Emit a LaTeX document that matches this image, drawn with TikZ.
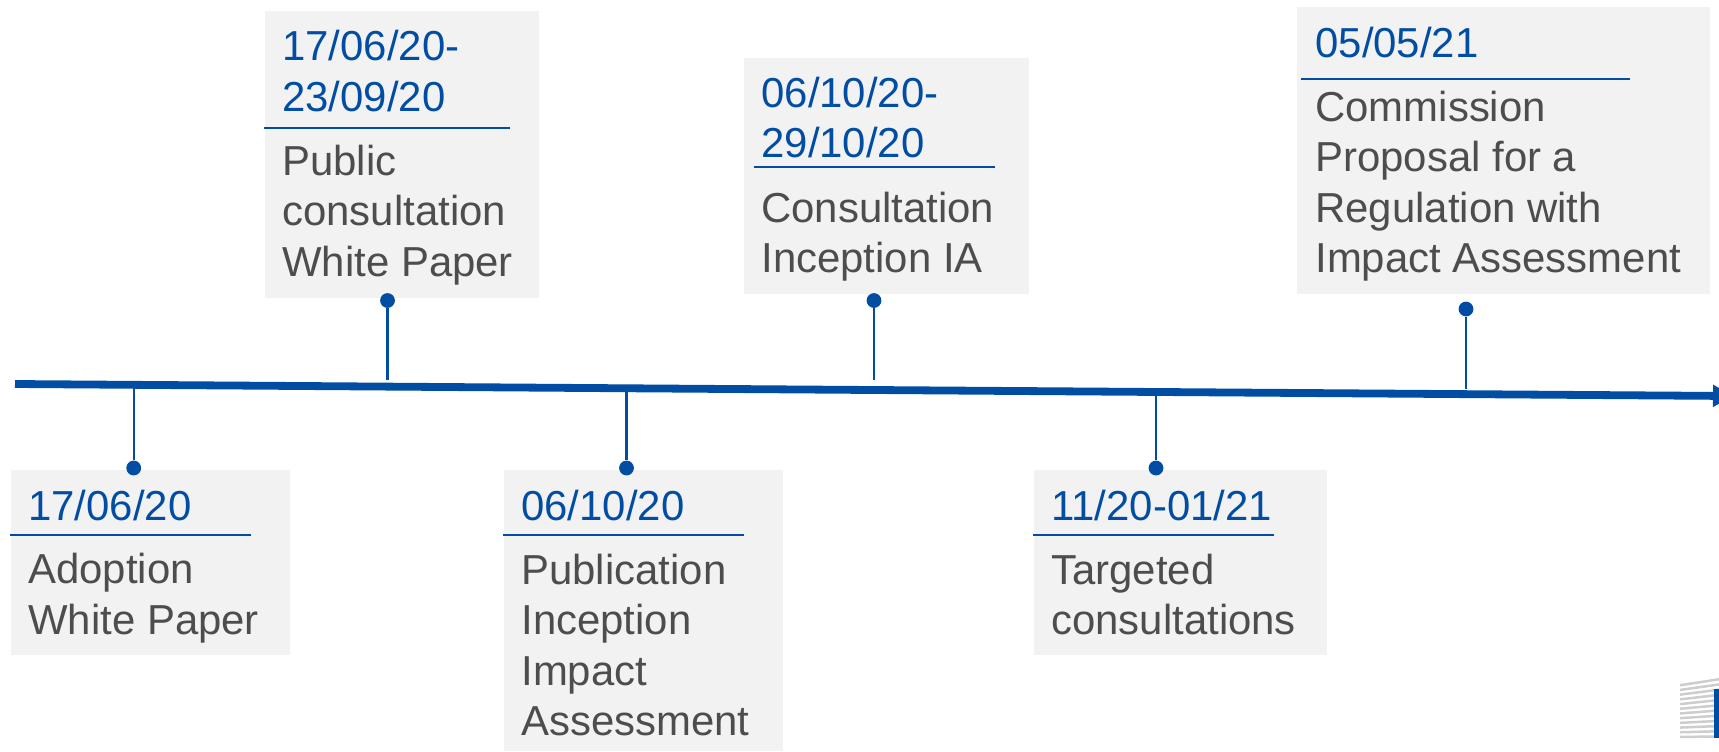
\documentclass[tikz,border=0pt]{standalone}
\usepackage{fontspec}
\setmainfont{Liberation Sans}
\usetikzlibrary{arrows.meta,fit}
\definecolor{ecblue}{HTML}{014DA3}
\definecolor{cardgrey}{HTML}{F2F2F2}
\definecolor{bodygrey}{HTML}{4D4D4D}
\definecolor{logogrey}{HTML}{CDCDCD}
\tikzset{
  card/.style={fill=cardgrey,draw=none,inner sep=0pt,outer sep=0pt},
  datetext/.style={anchor=base west,inner sep=0pt,align=left,text=ecblue,font=\fontsize{20.95}{25.2}\selectfont},
  bodytext/.style={anchor=base west,inner sep=0pt,align=left,text=bodygrey,font=\fontsize{20.95}{25.2}\selectfont},
  daterule/.style={draw=ecblue,line width=0.95pt},
  stem/.style={draw=ecblue,line width=1.15pt},
  pin/.style={circle,fill=ecblue,draw=none,minimum size=7.4pt,inner sep=0pt},
  axisline/.style={draw=ecblue,line width=3.9pt,-{Triangle[length=10pt,width=10.5pt,fill=ecblue]}}
}
\begin{document}
\begin{tikzpicture}[x=0.5pt,y=-0.5pt]
\clip (0,0) rectangle (1719,751);
% cards
\node[card,fit={(11,470)(290,655)}] (cardA) {};
\node[card,fit={(265,11)(539,298)}] (cardB) {};
\node[card,fit={(504,470)(783,751)}] (cardC) {};
\node[card,fit={(744,58)(1029,294)}] (cardD) {};
\node[card,fit={(1034,470)(1327,655)}] (cardE) {};
\node[card,fit={(1297,7)(1710,294)}] (cardF) {};
% axis
\coordinate (axisL) at (15,384);
\coordinate (axisR) at (1733,396);
\draw[axisline] (axisL) -- (axisR);
% pins and stems
\node[pin] (pinA) at (133.7,468) {};
\node[pin] (pinB) at (387.5,300.5) {};
\node[pin] (pinC) at (626.5,468) {};
\node[pin] (pinD) at (874,300.5) {};
\node[pin] (pinE) at (1156,468) {};
\node[pin] (pinF) at (1466,309) {};
\coordinate (stemA) at (133.7,386);
\coordinate (stemB) at (387.5,380);
\coordinate (stemC) at (626.5,388);
\coordinate (stemD) at (874,380);
\coordinate (stemE) at (1156,392);
\coordinate (stemF) at (1466,389);
\draw[stem] (pinA) -- (stemA);
\draw[stem] (pinB) -- (stemB);
\draw[stem] (pinC) -- (stemC);
\draw[stem] (pinD) -- (stemD);
\draw[stem] (pinE) -- (stemE);
\draw[stem] (pinF) -- (stemF);
% date rules
\draw[daterule] (10,535) -- (251,535);
\draw[daterule] (264,128) -- (510,128);
\draw[daterule] (503,535) -- (744,535);
\draw[daterule] (754,167) -- (995,167);
\draw[daterule] (1033,535) -- (1274,535);
\draw[daterule] (1301,79) -- (1630,79);
% texts
\node[datetext] (dateA) at (28,520) {17/06/20};
\node[bodytext] (bodyA) at (28,634) {Adoption\\White Paper};
\node[datetext] (dateB) at (282,111) {17/06/20-\\23/09/20};
\node[bodytext] (bodyB) at (282,276) {Public\\consultation\\White Paper};
\node[datetext] (dateC) at (521,520) {06/10/20};
\node[bodytext] (bodyC) at (521,735.5) {Publication\\Inception\\Impact\\Assessment};
\node[datetext] (dateD) at (761,157.5) {06/10/20-\\29/10/20};
\node[bodytext] (bodyD) at (761,272.5) {Consultation\\Inception IA};
\node[datetext] (dateE) at (1051,520) {11/20-01/21};
\node[bodytext] (bodyE) at (1051,634.5) {Targeted\\consultations};
\node[datetext] (dateF) at (1315,57) {05/05/21};
\node[bodytext] (bodyF) at (1315,272.5) {Commission\\Proposal for a\\Regulation with\\Impact Assessment};
% logo
\foreach \i in {0,...,11}{
  \fill[logogrey] (1680,{684+\i*4.7}) -- (1719,{678+\i*5.2}) -- (1719,{680.5+\i*5.2}) -- (1680,{686.5+\i*4.7}) -- cycle;
}
\fill[ecblue] (1714,689) rectangle (1719,738);
\end{tikzpicture}
\end{document}
